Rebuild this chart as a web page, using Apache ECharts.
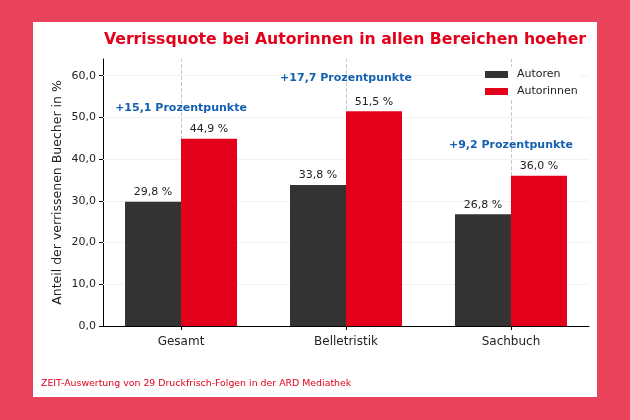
<!DOCTYPE html>
<html>
<head>
<meta charset="utf-8">
<script src="https://cdn.jsdelivr.net/npm/echarts@6/dist/echarts.min.js"></script>
<style>
  html, body { margin: 0; padding: 0; background: #E8435A; width: 630px; height: 420px; overflow: hidden; }
  #chart { position: absolute; left: 33px; top: 22px; width: 564px; height: 375px; background: #fff; }
</style>
</head>
<body>
<div id="chart"></div>
<script>
// Daten
var kategorien = ['Gesamt', 'Belletristik', 'Sachbuch'];
var autoren = [29.8, 33.8, 26.8];
var autorinnen = [44.9, 51.5, 36.0];
var differenzText = ['+15,1 Prozentpunkte', '+17,7 Prozentpunkte', '+9,2 Prozentpunkte'];
var differenzHoehe = [52.2, 59.3, 43.4]; // wo die Beschriftung steht (aus dem Bild)
var yTicks = [0, 10, 20, 30, 40, 50, 60];

var fontName = 'DejaVu Sans';
var myChart = echarts.init(document.getElementById('chart'));

function komma(v) {
    return v.toFixed(1).replace('.', ',');
}
var pos = kategorien.map(function (k, i) { return i; });

var barLabel = {
    show: true, position: 'top', distance: 4,
    fontSize: 11, color: '#222', fontFamily: fontName,
    formatter: function (p) { return komma(p.value[1]) + ' %'; }
};

var option = {
    animation: false,
    textStyle: { fontFamily: fontName },
    title: {
        text: 'Verrissquote bei Autorinnen in allen Bereichen hoeher',
        left: 307,
        textAlign: 'center',
        top: 5,
        textStyle: { color: '#E2001A', fontSize: 15.7, fontWeight: 'bold', fontFamily: fontName }
    },
    legend: {
        orient: 'vertical',
        left: 450,
        top: 45,
        zlevel: 1,
        padding: [2, 2, 2, 2],
        backgroundColor: '#fff',
        itemWidth: 23,
        itemHeight: 7,
        itemGap: 6,
        icon: 'rect',
        textStyle: { fontSize: 11, color: '#222', fontFamily: fontName, padding: [0, 0, 0, 4] },
        data: ['Autoren', 'Autorinnen']
    },
    grid: { left: 70, right: 8, top: 37, bottom: 71 },
    xAxis: {
        type: 'value',
        min: -0.473,
        max: 2.473,
        axisLine: { onZero: false, lineStyle: { color: '#000' } },
        axisTick: { show: true, length: 4, customValues: pos, lineStyle: { color: '#000' } },
        axisLabel: {
            fontSize: 12, color: '#222', margin: 10, fontFamily: fontName,
            customValues: pos,
            formatter: function (v) { return kategorien[Math.round(v)]; }
        },
        splitLine: { show: false }
    },
    yAxis: {
        type: 'value',
        min: 0,
        max: 64,
        name: 'Anteil der verrissenen Buecher in %',
        nameLocation: 'middle',
        nameGap: 39,
        nameMoveOverlap: false,
        nameTextStyle: { fontSize: 12.5, color: '#222', fontFamily: fontName },
        axisLine: { show: true, onZero: false, lineStyle: { color: '#000' } },
        axisTick: { show: true, length: 4, customValues: yTicks, lineStyle: { color: '#000' } },
        axisLabel: {
            fontSize: 11, color: '#222', margin: 7, fontFamily: fontName,
            customValues: yTicks,
            formatter: function (v) { return komma(v); }
        },
        splitLine: { show: false }
    },
    series: [
        {
            // gestrichelte Linien und Gitter hinter den Balken
            type: 'line',
            data: [],
            zlevel: 0,
            silent: true,
            markLine: {
                silent: true,
                symbol: 'none',
                label: { show: false },
                lineStyle: { color: '#c8c8c8', type: 'dashed', width: 1 },
                data: pos.map(function (p) { return { xAxis: p }; })
                    .concat(yTicks.slice(1).map(function (t) {
                        return { yAxis: t, lineStyle: { color: '#f2f2f2', type: 'solid' } };
                    }))
            }
        },
        {
            name: 'Autoren',
            type: 'bar',
            barWidth: 56,
            barGap: '0%',
            zlevel: 1,
            data: pos.map(function (p, i) { return [p, autoren[i]]; }),
            itemStyle: { color: '#333333' },
            label: barLabel
        },
        {
            name: 'Autorinnen',
            type: 'bar',
            barWidth: 56,
            barGap: '0%',
            zlevel: 1,
            data: pos.map(function (p, i) { return [p, autorinnen[i]]; }),
            itemStyle: { color: '#E2001A' },
            label: barLabel
        },
        {
            name: 'Differenz',
            type: 'scatter',
            symbolSize: 0,
            zlevel: 1,
            silent: true,
            itemStyle: { opacity: 1 },
            data: pos.map(function (p, i) { return [p, differenzHoehe[i]]; }),
            label: {
                show: true, position: 'inside',
                fontSize: 11, fontWeight: 'bold', color: '#1560B0', fontFamily: fontName,
                formatter: function (p) { return differenzText[p.dataIndex]; }
            }
        }
    ],
    graphic: [
        {
            type: 'text',
            left: 8,
            top: 357,
            style: {
                text: 'ZEIT-Auswertung von 29 Druckfrisch-Folgen in der ARD Mediathek',
                fill: '#E2001A',
                fontSize: 9.4,
                fontFamily: fontName
            }
        }
    ]
};

myChart.setOption(option);
</script>
</body>
</html>
